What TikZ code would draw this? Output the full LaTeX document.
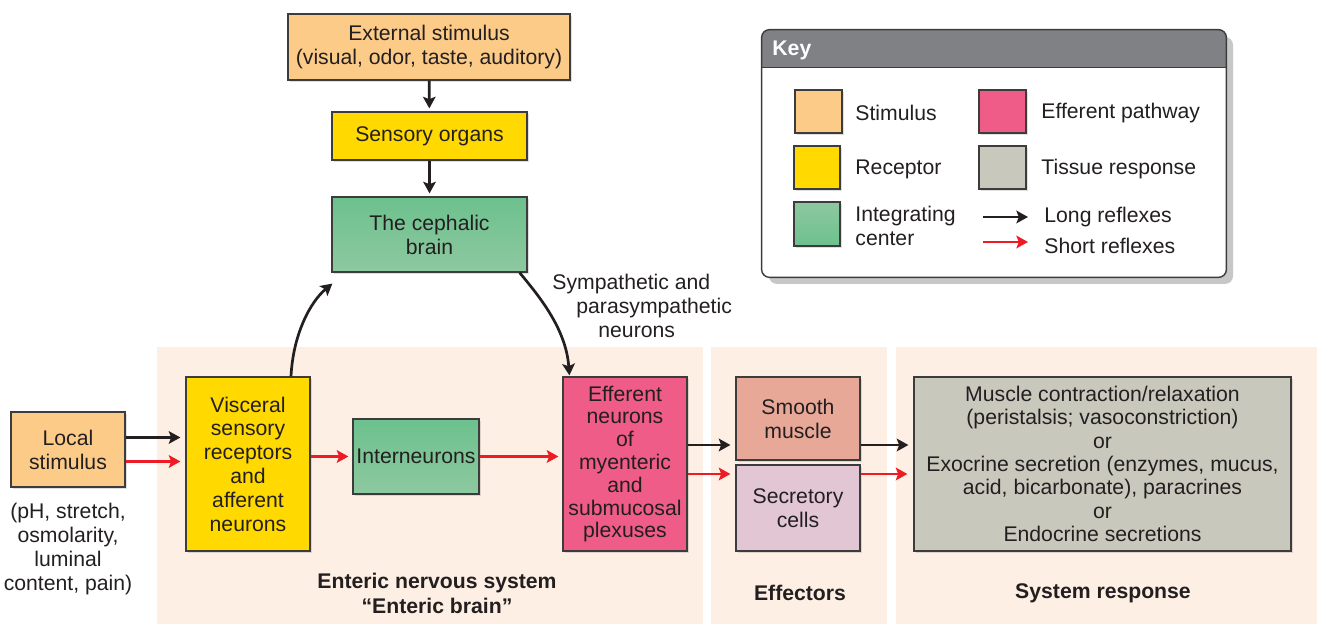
\documentclass[tikz,border=0pt]{standalone}
\usepackage{fontspec}
\setmainfont{Liberation Sans}
\usetikzlibrary{arrows.meta,shadows,calc}
\definecolor{stimc}{HTML}{FDCB88}
\definecolor{recc}{HTML}{FFD900}
\definecolor{intA}{HTML}{6CC18D}
\definecolor{intB}{HTML}{8EC8A0}
\definecolor{effc}{HTML}{EE5C87}
\definecolor{musc}{HTML}{E8A898}
\definecolor{secc}{HTML}{E2C6D4}
\definecolor{tisc}{HTML}{C8C8BD}
\definecolor{panc}{HTML}{FDEFE3}
\definecolor{keyh}{HTML}{808185}
\definecolor{txt}{HTML}{231F20}
\definecolor{edgec}{HTML}{3C3C3C}
\definecolor{redarr}{HTML}{ED1C24}
\tikzset{
  wh/.style 2 args={minimum width=#1*0.5pt, minimum height=#2*0.5pt},
  box/.style={draw=edgec, line width=0.6pt, inner sep=0pt, align=center, text=txt,
    font=\fontsize{10.6}{12}\selectfont,
    drop shadow={shadow xshift=0.8pt, shadow yshift=-0.8pt, opacity=0.25}},
  stim/.style={box, fill=stimc},
  recept/.style={box, fill=recc},
  integ/.style={box, top color=intA, bottom color=intB},
  integkey/.style={box, top color=intB, bottom color=intA},
  effer/.style={box, fill=effc},
  muscb/.style={box, fill=musc},
  secrb/.style={box, fill=secc},
  tissb/.style={box, fill=tisc},
  lbl/.style={align=center, text=txt, inner sep=0pt, font=\fontsize{10.6}{12}\selectfont},
  hdr/.style={lbl, font=\fontsize{10.6}{12.5}\selectfont\bfseries},
  longarr/.style={line width=1.35pt, draw=txt, -{Stealth[length=5.8pt,width=6.3pt,inset=1.2pt]}},
  shortarr/.style={longarr, draw=redarr},
  panel/.style={fill=panc}
}
\begin{document}
\begin{tikzpicture}[x=0.5pt, y=-0.5pt]
\useasboundingbox (0,0) rectangle (1317,624);
% panels
\fill[panel] (157,347) rectangle (703,624);
\fill[panel] (711,347) rectangle (887,624);
\fill[panel] (896,347) rectangle (1317,624);

% top boxes
\node[stim, wh={282}{66}] (ext) at (429,47) {External stimulus\\(visual, odor, taste, auditory)};
\node[recept, wh={195}{48}] (sens) at (429.5,136) {Sensory organs};
\node[integ, wh={195}{75}] (brain) at (429.5,234.5) {The cephalic\\brain};

% main row
\node[stim, wh={114}{75}] (loc) at (68,449.5) {Local\\stimulus};
\node[recept, wh={124}{174}, font=\fontsize{10.6}{11.9}\selectfont] (vis) at (248,464) {Visceral\\sensory\\receptors\\and\\afferent\\neurons};
\node[integ, wh={126}{75}] (inter) at (416,456.5) {Interneurons};
\node[effer, wh={124}{174}, font=\fontsize{10.6}{11.4}\selectfont] (eff) at (625,464) {Efferent\\neurons\\of\\myenteric\\and\\submucosal\\plexuses};
\node[muscb, wh={124}{83}] (mus) at (798,418.5) {Smooth\\muscle};
\node[secrb, wh={124}{86}] (sec) at (798,508) {Secretory\\cells};
\node[tissb, wh={377}{174}, font=\fontsize{10.6}{11.65}\selectfont] (resp) at (1102.5,464) {Muscle contraction/relaxation\\(peristalsis; vasoconstriction)\\or\\Exocrine secretion (enzymes, mucus,\\acid, bicarbonate), paracrines\\or\\Endocrine secretions};

% labels
\node[lbl] (ph) at (68,549) {(pH, stretch,\\osmolarity,\\luminal\\content, pain)};
\node[hdr] (ens) at (437,593) {Enteric nervous system\\“Enteric brain”};
\node[hdr] (effl) at (800,593) {Effectors};
\node[hdr] (sysl) at (1103,593) {System response};
\node[lbl, align=left, anchor=west] (symp) at (552,306) {Sympathetic and\\\hspace*{12pt}parasympathetic\\\hspace*{23pt}neurons};

% arrows top
\draw[longarr, shorten >=1.5pt] (ext) -- (sens);
\draw[longarr, shorten >=1.5pt] (sens) -- (brain);
\coordinate (c1s) at ($(vis.north)+(43,0)$);
\coordinate (c1e) at ($(brain.south west)+(1,11)$);
\draw[longarr] (c1s) .. controls (293,335) and (310,302) .. (c1e);
\coordinate (c2s) at ($(brain.south east)+(-8,0)$);
\coordinate (c2e) at ($(eff.north west)+(7,-1)$);
\draw[longarr] (c2s) .. controls (538,295) and (566,328) .. (c2e);

% arrows main row
\coordinate (la) at ($(loc.east)+(0,-12)$);
\coordinate (lr) at ($(loc.east)+(0,12)$);
\draw[longarr, shorten >=2.5pt] (la) -- (la -| vis.west);
\draw[shortarr, shorten >=2.5pt] (lr) -- (lr -| vis.west);
\draw[shortarr, shorten >=2pt] (inter.west -| vis.east) -- (inter.west);
\draw[shortarr, shorten >=2pt] (inter.east) -- (inter.east -| eff.west);
\coordinate (ea) at ($(eff.east)+(0,-19)$);
\coordinate (er) at ($(eff.east)+(0,10)$);
\draw[longarr, shorten >=2.5pt] (ea) -- (ea -| mus.west);
\draw[shortarr, shorten >=2.5pt] (er) -- (er -| sec.west);
\draw[longarr, shorten >=2.5pt] (ea -| mus.east) -- (ea -| resp.west);
\draw[shortarr, shorten >=3pt] (er -| sec.east) -- (er -| resp.west);

% key
\node[wh={464}{247}, inner sep=0pt, rounded corners=4pt, fill=white,
  drop shadow={shadow xshift=3.5pt, shadow yshift=-3.5pt, fill=black!22, opacity=1}] (key) at (994,153.5) {};
\begin{scope}
  \clip[rounded corners=4pt] (key.south west) rectangle (key.north east);
  \fill[keyh] (key.north west) rectangle ($(key.north east)+(0,38)$);
\end{scope}
\draw[edgec, line width=0.6pt] ($(key.north west)+(0,38)$) -- ($(key.north east)+(0,38)$);
\draw[edgec, line width=0.7pt, rounded corners=4pt] (key.south west) rectangle (key.north east);
\node[hdr, anchor=west, text=white] (keyt) at (772,50) {Key};

\node[stim, wh={47}{43}] (k1) at (818.5,111.5) {};
\node[recept, wh={46}{43}] (k2) at (817,167.5) {};
\node[integkey, wh={46}{44}] (k3) at (817,224) {};
\node[effer, wh={47}{43}] (k4) at (1002.5,111.5) {};
\node[tissb, wh={47}{43}] (k5) at (1002.5,167.5) {};
\node[lbl, anchor=west] (k1l) at (855,113) {Stimulus};
\node[lbl, anchor=west] (k2l) at (855,169) {Receptor};
\node[lbl, anchor=west, align=left] (k3l) at (855,226) {Integrating\\center};
\node[lbl, anchor=west] (k4l) at (1041,113) {Efferent pathway};
\node[lbl, anchor=west] (k5l) at (1041,169) {Tissue response};
\node[lbl, anchor=west] (k6l) at (1044,217) {Long reflexes};
\node[lbl, anchor=west] (k7l) at (1044,246) {Short reflexes};
\coordinate (kas) at (983,217);
\coordinate (kae) at (1028,217);
\coordinate (krs) at (983,242);
\coordinate (kre) at (1028,242);
\draw[longarr] (kas) -- (kae);
\draw[shortarr] (krs) -- (kre);
\end{tikzpicture}
\end{document}
